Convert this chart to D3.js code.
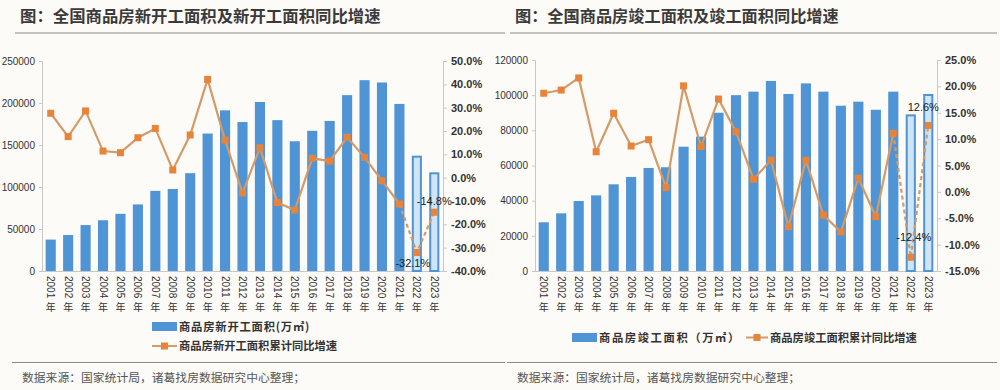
<!DOCTYPE html>
<html><head><meta charset="utf-8">
<script src="https://cdn.jsdelivr.net/npm/d3@7"></script>
<style>
html,body{margin:0;padding:0;background:#fdfbf7;}
svg{display:block;}
</style></head>
<body><svg id="c" width="1000" height="390"></svg>
<script>
const years = ["2001","2002","2003","2004","2005","2006","2007","2008","2009","2010","2011","2012","2013","2014","2015","2016","2017","2018","2019","2020","2021","2022","2023"];
const startArea = [37394,42801,54708,60414,68064,79253,95402,97574,116422,163647,191237,177334,201208,179592,154454,166928,178654,209342,227154,224433,198895,136100,116300];
const startGrowth = [27.6,17.6,28.6,11.4,10.7,17.1,21.1,3.3,18.3,42.1,16.1,-6.6,12.8,-10.7,-13.9,8.3,7.1,17.3,8.7,-1.3,-11.3,-32.1,-14.8];
const doneArea = [27700,32800,39800,43000,49300,53500,58600,59000,70700,76400,90000,100000,102000,108100,100700,106700,102000,94000,96300,91700,102000,88500,100100];
const doneGrowth = [18.7,19.3,21.6,7.6,14.9,8.7,9.9,0.8,20.1,8.6,17.6,11.4,2.4,6.0,-6.6,6.0,-4.4,-7.6,2.6,-4.7,11.1,-12.4,12.6];
const leftTicksA = [0,50000,100000,150000,200000,250000];
const rightTicksA = [-40,-30,-20,-10,0,10,20,30,40,50];
const leftTicksB = [0,20000,40000,60000,80000,100000,120000];
const rightTicksB = [-15,-10,-5,0,5,10,15,20,25];
const titleA = "图：全国商品房新开工面积及新开工面积同比增速";
const titleB = "图：全国商品房竣工面积及竣工面积同比增速";
const legendA = ["商品房新开工面积(万㎡)","商品房新开工面积累计同比增速"];
const legendB = ["商品房竣工面积（万㎡）","商品房竣工面积累计同比增速"];
const source = "数据来源：国家统计局，诸葛找房数据研究中心整理；";
const labeledIdx = [21,22];
const partialIdx = [21,22];

const svg = d3.select("#c");
const BLUE = "#4f94d4", ORANGE = "#e8833a", LINEC = "#d49a68";
const CJK = "'Noto Sans CJK SC', sans-serif";
const pct = d => d3.format(".1f")(d).replace("−","-") + "%";

function drawChart(o){
  const g = svg.append("g");
  g.append("text").attr("x",o.titleX).attr("y",22).text(o.title)
    .attr("font-family",CJK).attr("font-size",o.titleSize).attr("font-weight",700).attr("fill","#3a3a3a");
  g.append("line").attr("x1",o.sepX1).attr("x2",o.sepX2).attr("y1",33).attr("y2",33).attr("stroke","#8a8a8a").attr("stroke-width",1);
  g.append("line").attr("x1",o.sepX1-3).attr("x2",o.sepX2).attr("y1",362.5).attr("y2",362.5).attr("stroke","#8a8a8a").attr("stroke-width",1);
  g.append("text").attr("x",o.srcX).attr("y",382).text(source)
    .attr("font-family",CJK).attr("font-size",11.8).attr("fill","#555");

  const x = d3.scaleBand().domain(years).range([o.x0,o.x1]).paddingInner(0.42).paddingOuter(0.21);
  const yL = d3.scaleLinear().domain([0,o.lMax]).range([o.yB,o.yT]);
  const yR = d3.scaleLinear().domain([o.rMin,o.rMax]).range([o.yB,o.yT]);

  const axL = g.append("g").attr("transform",`translate(${o.x0},0)`)
    .call(d3.axisLeft(yL).tickValues(o.lTicks).tickSize(3).tickPadding(4).tickFormat(d3.format("d")));
  axL.select(".domain").attr("stroke","#c8c8c8");
  axL.selectAll(".tick line").attr("stroke","#c8c8c8");
  axL.selectAll("text").attr("font-family","Arial, 'Liberation Sans', sans-serif").attr("font-size",10).attr("fill","#333");
  const axR = g.append("g").attr("transform",`translate(${o.x1},0)`)
    .call(d3.axisRight(yR).tickValues(o.rTicks).tickSize(4).tickPadding(4).tickFormat(pct));
  axR.select(".domain").attr("stroke","#c8c8c8");
  axR.selectAll(".tick line").attr("stroke","#c8c8c8");
  axR.selectAll("text").attr("font-family","Arial, 'Liberation Sans', sans-serif").attr("font-size",11).attr("font-weight",700).attr("fill","#333");
  g.append("line").attr("x1",o.x0).attr("x2",o.x1).attr("y1",o.yB+0.5).attr("y2",o.yB+0.5).attr("stroke","#c8c8c8");

  g.selectAll("rect.bar").data(o.area).enter().append("rect")
    .attr("x",(d,i)=>x(years[i]) + (partialIdx.includes(i)?1:0))
    .attr("width",(d,i)=>x.bandwidth() - (partialIdx.includes(i)?2:0))
    .attr("y",d=>yL(d))
    .attr("height",d=>o.yB - yL(d))
    .attr("fill",(d,i)=>partialIdx.includes(i)?"#cfe5f6":BLUE)
    .attr("stroke",(d,i)=>partialIdx.includes(i)?BLUE:"none")
    .attr("stroke-width",2);

  years.forEach((yv,i)=>{
    const cx = x(yv)+x.bandwidth()/2;
    g.append("text").attr("transform",`translate(${cx-3.5},${o.yB+5}) rotate(90)`)
      .text(yv).attr("font-family","Arial, 'Liberation Sans', sans-serif").attr("font-size",10).attr("fill","#333");
    g.append("text").attr("x",cx).attr("y",o.yB+40).attr("text-anchor","middle")
      .text("年").attr("font-family",CJK).attr("font-size",10).attr("fill","#333");
  });

  const pts = o.growth.map((d,i)=>[x(years[i])+x.bandwidth()/2, yR(d)]);
  const line = d3.line();
  g.append("path").attr("d",line(pts.slice(0,21))).attr("fill","none").attr("stroke",LINEC).attr("stroke-width",2.2);
  g.append("path").attr("d",line(pts.slice(20))).attr("fill","none").attr("stroke",LINEC).attr("stroke-width",2.2).attr("stroke-dasharray","4,3");
  g.selectAll("rect.mk").data(pts).enter().append("rect")
    .attr("x",d=>d[0]-3.5).attr("y",d=>d[1]-3.5).attr("width",7).attr("height",7).attr("fill",ORANGE);

  labeledIdx.forEach((i,k)=>{
    const p = pts[i];
    g.append("text").attr("x",p[0]+o.lblDx[k]).attr("y",p[1]+o.lblDy[k]).attr("text-anchor","middle")
      .text(pct(o.growth[i]))
      .attr("font-family","Arial, 'Liberation Sans', sans-serif").attr("font-size",11).attr("fill","#222");
  });

  o.legend(g);
}

drawChart({
  title:titleA, titleX:20, titleSize:16.4, sepX1:15, sepX2:505, srcX:22,
  x0:42, x1:443, yT:61, yB:271, lMax:250000, rMin:-40, rMax:50,
  lTicks:leftTicksA, rTicks:rightTicksA, area:startArea, growth:startGrowth,
  lblDx:[-4,0], lblDy:[14,-7],
  legend:(g)=>{
    g.append("rect").attr("x",152).attr("y",322).attr("width",25).attr("height",9).attr("fill",BLUE);
    g.append("text").attr("x",179).attr("y",331).text(legendA[0]).attr("font-family",CJK).attr("font-size",11.3).attr("font-weight",700).attr("letter-spacing",0.8).attr("fill","#333");
    g.append("line").attr("x1",152).attr("x2",177).attr("y1",346).attr("y2",346).attr("stroke",LINEC).attr("stroke-width",2);
    g.append("rect").attr("x",161).attr("y",342.5).attr("width",7).attr("height",7).attr("fill",ORANGE);
    g.append("text").attr("x",179).attr("y",350).text(legendA[1]).attr("font-family",CJK).attr("font-size",11.3).attr("font-weight",700).attr("fill","#333");
  }
});

drawChart({
  title:titleB, titleX:515, titleSize:16.2, sepX1:510, sepX2:997, srcX:517,
  x0:535, x1:937, yT:60, yB:271, lMax:120000, rMin:-15, rMax:25,
  lTicks:leftTicksB, rTicks:rightTicksB, area:doneArea, growth:doneGrowth,
  lblDx:[3,-5], lblDy:[-16,-14],
  legend:(g)=>{
    g.append("rect").attr("x",572).attr("y",333).attr("width",25).attr("height",9).attr("fill",BLUE);
    g.append("text").attr("x",599).attr("y",342).text(legendB[0]).attr("font-family",CJK).attr("font-size",11.3).attr("font-weight",700).attr("letter-spacing",1.6).attr("fill","#333");
    g.append("line").attr("x1",746).attr("x2",768).attr("y1",337.5).attr("y2",337.5).attr("stroke",LINEC).attr("stroke-width",2);
    g.append("rect").attr("x",753.5).attr("y",334).attr("width",7).attr("height",7).attr("fill",ORANGE);
    g.append("text").attr("x",770).attr("y",342).text(legendB[1]).attr("font-family",CJK).attr("font-size",11.3).attr("font-weight",700).attr("fill","#333");
  }
});
</script></body></html>
